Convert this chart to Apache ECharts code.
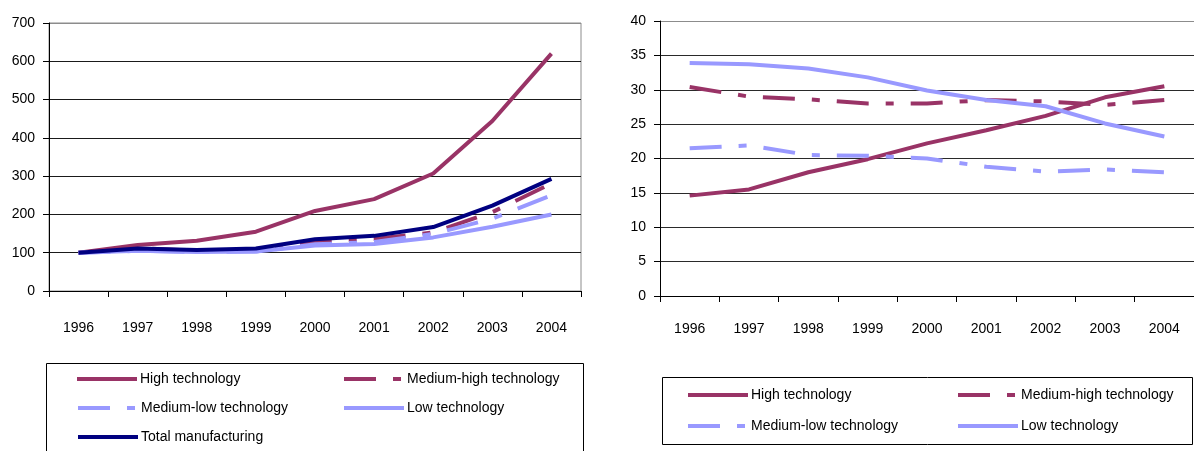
<!DOCTYPE html>
<html>
<head>
<meta charset="utf-8">
<script src="https://cdn.jsdelivr.net/npm/echarts@6/dist/echarts.min.js"></script>
<style>
  html, body { margin: 0; padding: 0; background: #fff; }
  #chart { width: 1194px; height: 451px; }
</style>
</head>
<body>
<div id="chart"></div>
<script>
// Years on the horizontal axis of both panels
const years = ['1996', '1997', '1998', '1999', '2000', '2001', '2002', '2003', '2004'];

// Left panel: output index (1996 = 100)
const indexHigh    = [100, 120, 131, 155, 209, 240, 307, 444, 620];
const indexMedHigh = [100, 112, 105, 108, 129, 136, 153, 206, 281];
const indexMedLow  = [100, 105, 102, 103, 122, 128, 149, 189, 250];
const indexLow     = [100, 105, 102, 103, 119, 123, 140, 168, 200];
const indexTotal   = [100, 111, 107, 111, 135, 144, 167, 223, 293];

// Right panel: share of manufacturing (%)
const shareHigh    = [14.6, 15.5, 18.0, 19.9, 22.2, 24.1, 26.2, 28.9, 30.5];
const shareMedHigh = [30.4, 29.0, 28.6, 28.0, 28.0, 28.5, 28.3, 27.8, 28.5];
const shareMedLow  = [21.5, 21.9, 20.5, 20.4, 20.0, 18.8, 18.1, 18.4, 18.0];
const shareLow     = [33.9, 33.7, 33.1, 31.8, 29.9, 28.5, 27.6, 25.1, 23.2];

// Axis ranges
const leftAxis  = { min: 0, max: 700, interval: 100 };
const rightAxis = { min: 0, max: 40, interval: 5 };

const NAMES = ['High technology', 'Medium-high technology', 'Medium-low technology', 'Low technology', 'Total manufacturing'];

const MAROON = '#993366';
const LILAC = '#9999FF';
const NAVY = '#000080';
const DASH = [32, 17, 8, 17];
const FONT = '"Liberation Sans", Arial, sans-serif';

const styles = {
  'High technology':        { color: MAROON, type: 'solid' },
  'Medium-high technology': { color: MAROON, type: DASH },
  'Medium-low technology':  { color: LILAC,  type: DASH },
  'Low technology':         { color: LILAC,  type: 'solid' },
  'Total manufacturing':    { color: NAVY,   type: 'solid' }
};

function lineSeries(name, data, idx) {
  const s = styles[name];
  return {
    name: name,
    type: 'line',
    xAxisIndex: idx,
    yAxisIndex: idx,
    data: data,
    symbol: 'none',
    smooth: false,
    animation: false,
    lineStyle: { color: s.color, width: 4, type: s.type, cap: 'butt' },
    itemStyle: { color: s.color }
  };
}

function xAxis(idx, margin) {
  return {
    type: 'category',
    gridIndex: idx,
    data: years,
    boundaryGap: true,
    axisLine: { show: true, lineStyle: { color: '#000', width: 1 } },
    axisTick: { show: true, length: 6, interval: 0, lineStyle: { color: '#000' } },
    axisLabel: { color: '#000', fontFamily: FONT, fontSize: 14, margin: margin, interval: 0 },
    splitLine: { show: false }
  };
}

// Grid lines are dark, the topmost one (plot-area border) is grey
function gridColors(range, inner, top) {
  const n = Math.round((range.max - range.min) / range.interval) + 1;
  const c = [];
  for (let i = 0; i < n; i++) c.push(i === n - 1 ? top : inner);
  return c;
}

function yAxis(idx, range, inner) {
  return {
    type: 'value',
    gridIndex: idx,
    min: range.min,
    max: range.max,
    interval: range.interval,
    axisLine: { show: true, lineStyle: { color: '#000', width: 1 } },
    axisTick: { show: true, length: 6, lineStyle: { color: '#000' } },
    axisLabel: { color: '#000', fontFamily: FONT, fontSize: 14, margin: 14 },
    splitLine: { show: true, lineStyle: { color: gridColors(range, inner, '#8c8c8c'), width: 1 } }
  };
}

// One legend component per entry so the entries sit in a two-column table
function legendItem(name, left, centerY) {
  return {
    data: [name],
    left: left,
    top: centerY - 7,
    itemWidth: 60,
    itemHeight: 14,
    selectedMode: false,
    padding: 0,
    itemStyle: { opacity: 0, borderWidth: 0 },
    lineStyle: { width: 4, cap: 'butt' },
    textStyle: { color: '#000', fontFamily: FONT, fontSize: 14, padding: [0, 0, 0, -2] }
  };
}

const chart = echarts.init(document.getElementById('chart'), null, { renderer: 'canvas' });

chart.setOption({
  backgroundColor: '#fff',
  animation: false,
  grid: [
    { left: 49, top: 23, width: 532, height: 268, show: true, borderColor: '#8c8c8c', borderWidth: 1, containLabel: false },
    { left: 660, top: 21, width: 540, height: 275, show: false, containLabel: false }
  ],
  xAxis: [xAxis(0, 30), xAxis(1, 26)],
  yAxis: [yAxis(0, leftAxis, '#1a1a1a'), yAxis(1, rightAxis, '#2a2a2a')],
  legend: [
    legendItem(NAMES[0], 75, 379),
    legendItem(NAMES[1], 342, 379),
    legendItem(NAMES[2], 76, 408),
    legendItem(NAMES[3], 342, 408),
    legendItem(NAMES[4], 76, 437),
    legendItem(NAMES[0], 686, 395),
    legendItem(NAMES[1], 956, 395),
    legendItem(NAMES[2], 686, 426),
    legendItem(NAMES[3], 956, 426)
  ],
  graphic: [
    { type: 'rect', shape: { x: 46.5, y: 363.5, width: 537, height: 100 }, style: { fill: 'none', stroke: '#000', lineWidth: 1 }, z: -1 },
    { type: 'rect', shape: { x: 662.5, y: 377.5, width: 530, height: 67 }, style: { fill: 'none', stroke: '#000', lineWidth: 1 }, z: -1 }
  ],
  series: [
    lineSeries(NAMES[0], indexHigh, 0),
    lineSeries(NAMES[1], indexMedHigh, 0),
    lineSeries(NAMES[2], indexMedLow, 0),
    lineSeries(NAMES[3], indexLow, 0),
    lineSeries(NAMES[4], indexTotal, 0),
    lineSeries(NAMES[0], shareHigh, 1),
    lineSeries(NAMES[1], shareMedHigh, 1),
    lineSeries(NAMES[2], shareMedLow, 1),
    lineSeries(NAMES[3], shareLow, 1)
  ]
});
</script>
</body>
</html>
